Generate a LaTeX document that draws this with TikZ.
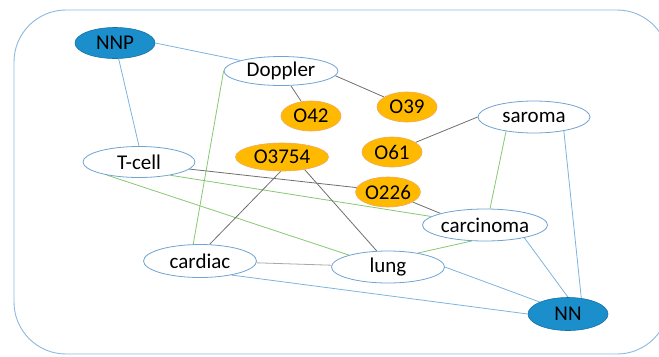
\documentclass[tikz,border=0pt]{standalone}
\usepackage{fontspec}
\setmainfont{Carlito}
\usetikzlibrary{shapes.geometric,backgrounds}
\definecolor{frameblue}{HTML}{8DB8DE}
\definecolor{edgeblue}{HTML}{7DB4DF}
\definecolor{edgegreen}{HTML}{86C871}
\definecolor{edgegray}{HTML}{6E6E6E}
\definecolor{lightgray}{HTML}{A8A8A8}
\definecolor{nodeblue}{HTML}{1B8FCC}
\definecolor{nodeorange}{HTML}{FFBA00}
\definecolor{orangeborder}{HTML}{F2A65A}
\definecolor{outline}{HTML}{6FA3D3}
\tikzset{
  base/.style={ellipse, inner sep=0pt, font=\fontsize{21bp}{25bp}\selectfont, text=black},
  term/.style={base, draw=outline, fill=white, line width=0.8bp, minimum width=113bp, minimum height=31bp},
  hub/.style={base, draw=nodeblue!80!black, fill=nodeblue, line width=0.6bp, minimum width=80bp, minimum height=31bp},
  code/.style={base, draw=orangeborder, fill=nodeorange, line width=0.6bp, minimum width=60bp, minimum height=30bp},
  bl/.style={draw=edgeblue, line width=0.8bp},
  gr/.style={draw=edgegreen, line width=0.8bp},
  gy/.style={draw=edgegray, line width=0.8bp},
  lg/.style={draw=lightgray, line width=0.8bp},
}
\begin{document}
\begin{tikzpicture}[x=1bp, y=-1bp]
\useasboundingbox (0,0) rectangle (659,356);
\draw[frameblue, line width=0.9bp, rounded corners=52bp] (14,10) rectangle (669,354);
\node[hub] (NNP) at (115,43) {NNP};
\node[term, minimum width=114bp, minimum height=29bp] (Doppler) at (281,71) {Doppler};
\node[code] (O42) at (311,116) {O42};
\node[code] (O39) at (407,107) {O39};
\node[term, minimum width=112bp, minimum height=32bp] (saroma) at (534,117) {saroma};
\node[code] (O61) at (392,152) {O61};
\node[term, minimum width=112bp] (Tcell) at (139,162) {T-cell};
\node[code, minimum width=93bp, minimum height=28bp] (O3754) at (282,157) {O3754};
\node[code] (O226) at (388,192) {O226};
\node[term, minimum width=114bp, minimum height=32bp] (carcinoma) at (485,225) {carcinoma};
\node[term, minimum height=33bp] (cardiac) at (200,261) {cardiac};
\node[term, minimum height=32bp] (lung) at (388,267) {lung};
\node[hub, minimum height=33bp] (NN) at (568,314) {NN};
\begin{scope}[on background layer]
% blue
\draw[bl] (NNP.east) -- (Doppler.north west);
\draw[bl] (NNP) -- (Tcell.north);
\draw[bl] (saroma.335) -- (NN.50);
\draw[bl] (carcinoma.342) -- (NN.north);
\draw[bl] (lung.east) -- (NN.157);
\draw[bl] (cardiac.336) -- (NN.west);
% green
\draw[gr] (Doppler.west) -- (cardiac.112);
\draw[gr] (Tcell.337) -- (carcinoma.171);
\draw[gr] (Tcell.202) -- (lung.163);
\draw[gr] (saroma.207) -- (carcinoma.73);
\draw[gr] (carcinoma.230) -- (lung.25);
% gray
\draw[gy] (Doppler) -- (O42);
\draw[gy] (Doppler.355) -- (O39);
\draw[gy] (O61) -- (saroma.west);
\draw[gy] (Tcell.352) -- (O226.172);
\draw[gy] (O226) -- (carcinoma.north west);
\draw[gy] (O3754.265) -- (cardiac.60);
\draw[gy] (O3754.331) -- (lung.125);
\draw[lg] (cardiac) -- (lung);
\end{scope}
\end{tikzpicture}
\end{document}
